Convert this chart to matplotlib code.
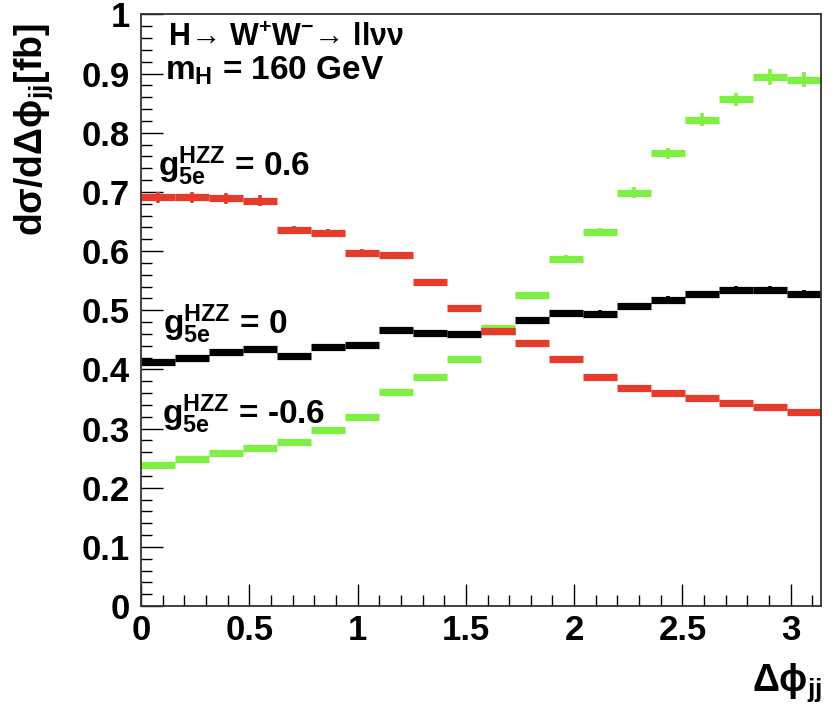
import numpy as np
import matplotlib
matplotlib.use('Agg')
import matplotlib.pyplot as plt
from matplotlib.ticker import MultipleLocator, FormatStrFormatter

plt.rcParams['font.family'] = ['Liberation Sans', 'DejaVu Sans']
plt.rcParams['font.weight'] = 'bold'
plt.rcParams['mathtext.default'] = 'regular'

# 20 bins in delta phi_jj, 0..pi
n_bins = 20
edges = np.linspace(0, np.pi, n_bins + 1)

# g5e = 0.6 (red)
red_vals = [0.691, 0.691, 0.689, 0.685, 0.636, 0.630, 0.597, 0.593, 0.547, 0.503,
            0.465, 0.444, 0.417, 0.387, 0.369, 0.360, 0.351, 0.344, 0.337, 0.328]
red_err = [0.009, 0.009, 0.009, 0.009, 0.007, 0.007, 0.006, 0.006, 0.006, 0.005,
           0.005, 0.005, 0.005, 0.004, 0.004, 0.004, 0.004, 0.004, 0.004, 0.004]
# g5e = 0 (black)
black_vals = [0.412, 0.420, 0.430, 0.435, 0.422, 0.438, 0.441, 0.467, 0.462, 0.460,
              0.465, 0.484, 0.496, 0.494, 0.507, 0.518, 0.527, 0.535, 0.535, 0.528]
black_err = [0.005, 0.005, 0.005, 0.005, 0.004, 0.005, 0.005, 0.005, 0.005, 0.005,
             0.005, 0.005, 0.005, 0.006, 0.006, 0.006, 0.006, 0.006, 0.006, 0.006]
# g5e = -0.6 (green)
green_vals = [0.238, 0.249, 0.259, 0.267, 0.277, 0.297, 0.319, 0.362, 0.388, 0.417,
              0.470, 0.525, 0.587, 0.632, 0.699, 0.765, 0.822, 0.857, 0.894, 0.890]
green_err = [0.002, 0.002, 0.002, 0.002, 0.002, 0.003, 0.003, 0.003, 0.004, 0.004,
             0.005, 0.006, 0.006, 0.007, 0.009, 0.010, 0.011, 0.011, 0.013, 0.013]

fig = plt.figure(figsize=(8.33, 7.06), dpi=100)
ax = fig.add_axes([0.1693, 0.1416, 0.8167, 0.8379])

centers = 0.5 * (edges[:-1] + edges[1:])
series = [(black_vals, black_err, 'black'),
          (green_vals, green_err, '#7ef043'),
          (red_vals, red_err, '#e63b2b')]
for vals, err, col in series:
    vals = np.array(vals)
    err = np.array(err)
    ax.hlines(vals, edges[:-1], edges[1:], colors=col, linewidth=5.2)
    ax.vlines(centers, vals - err, vals + err, colors=col, linewidth=2.6)

ax.set_xlim(0, np.pi)
ax.set_ylim(0, 1)
ax.xaxis.set_major_locator(MultipleLocator(0.5))
ax.xaxis.set_minor_locator(MultipleLocator(0.1))
ax.yaxis.set_major_locator(MultipleLocator(0.1))
ax.yaxis.set_minor_locator(MultipleLocator(0.02))
ax.xaxis.set_major_formatter(FormatStrFormatter('%g'))
ax.yaxis.set_major_formatter(FormatStrFormatter('%g'))
ax.tick_params(which='both', direction='in', top=False, right=False, labelsize=25)
ax.tick_params(which='major', length=16, width=1.0)
ax.tick_params(which='minor', length=8, width=1.0)
ax.tick_params(axis='y', pad=8)
ax.tick_params(axis='x', pad=6)
for s in ax.spines.values():
    s.set_linewidth(1.3)
    s.set_color('#333333')

# annotations
ax.text(0.125, 0.946, 'H→ W$^{+}$W$^{-}$→ llνν', fontsize=22, va='baseline')
ax.text(0.112, 0.890, 'm$_{H}$ = 160 GeV', fontsize=24, va='baseline')
ax.text(0.078, 0.726, 'g$^{HZZ}_{5e}$ = 0.6', fontsize=24, va='baseline')
ax.text(0.100, 0.460, 'g$^{HZZ}_{5e}$ = 0', fontsize=24, va='baseline')
ax.text(0.096, 0.308, 'g$^{HZZ}_{5e}$ = -0.6', fontsize=24, va='baseline')

fig.text(0.040, 0.968, 'd$\\sigma$/d$\\Delta\\phi_{jj}$[fb]', rotation=90,
         ha='center', va='top', fontsize=27)
fig.text(0.987, 0.022, '$\\Delta\\phi_{jj}$', ha='right', va='baseline', fontsize=27)

fig.savefig('out.png', dpi=100)
